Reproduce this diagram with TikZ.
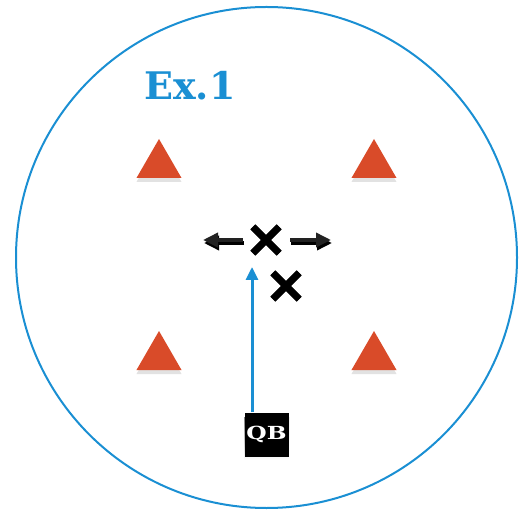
\documentclass[tikz,border=0pt]{standalone}
\usepackage{fontspec}
\newfontfamily\slabfont{DejaVu Serif}
\usetikzlibrary{arrows.meta,shapes.geometric,calc}
\definecolor{exblue}{HTML}{1A8FD3}
\definecolor{cone}{HTML}{D94B29}
\definecolor{shade}{HTML}{E2E2E2}
\definecolor{dark}{HTML}{222222}
\tikzset{
  cone/.style={regular polygon, regular polygon sides=3, fill=cone, inner sep=0pt, minimum size=52pt, draw=none},
  coneshadow/.style={regular polygon, regular polygon sides=3, fill=shade, inner sep=0pt, minimum size=52pt, draw=none},
  xmark/.style={minimum size=26pt, inner sep=0pt},
  xline/.style={line width=7pt, black},
  xshadow/.style={line width=7pt, shade},
  runarrow/.style={line width=3.5pt, dark, -{Triangle[length=15pt,width=14pt]}},
  runshadow/.style={line width=3.5pt, shade, -{Triangle[length=15pt,width=14pt]}},
}
\begin{document}
\begin{tikzpicture}[x=1pt,y=-1pt]
\useasboundingbox (0,0) rectangle (527,510);
% field circle
\draw[exblue, line width=2pt] (266.5,257.5) circle [radius=250.5];
% title
\node[anchor=base west, inner sep=0pt, text=exblue, font=\slabfont\bfseries\fontsize{38}{38}\selectfont] (title) at (144,100) {Ex.1};
% cones with shadows
\foreach \nm/\cx/\cy in {c1/159/165, c2/374/165, c3/159/357, c4/374/357}{
  \node[coneshadow] at (\cx,\cy+4) {};
  \node[cone] (\nm) at (\cx,\cy) {};
}
% X marks
\node[xmark] (x1) at (266,240) {};
\node[xmark] (x2) at (286,286) {};
% shadows of arrows and X marks
\begin{scope}[shift={(1,3)}]
  \draw[runshadow] (243,240) -- (203,240);
  \draw[runshadow] (290,240) -- (331,240);
  \foreach \c in {x1,x2}{
    \draw[xshadow] ($(\c)+(-13,-13)$) -- ($(\c)+(13,13)$);
    \draw[xshadow] ($(\c)+(13,-13)$) -- ($(\c)+(-13,13)$);
  }
\end{scope}
\foreach \c in {x1,x2}{
  \draw[xline] (\c.north west) -- (\c.south east);
  \draw[xline] (\c.north east) -- (\c.south west);
}
\coordinate (lstart) at (243,240);
\coordinate (lend) at (203,240);
\coordinate (rstart) at (290,240);
\coordinate (rend) at (331,240);
\draw[runarrow] (lstart) -- (lend);
\draw[runarrow] (rstart) -- (rend);
% QB
\fill[shade] (244,417) rectangle (289,460);
\node[fill=black, text=white, minimum size=44pt, inner sep=0pt, font=\slabfont\bfseries\fontsize{18}{18}\selectfont] (qb) at (266.5,434.5) {\scalebox{1.3}[1]{QB}};
\coordinate (qbtip) at (252,267);
\draw[exblue, line width=3pt, -{Triangle[length=13pt,width=12pt]}] (qb.north -| qbtip) -- (qbtip);
\end{tikzpicture}
\end{document}
